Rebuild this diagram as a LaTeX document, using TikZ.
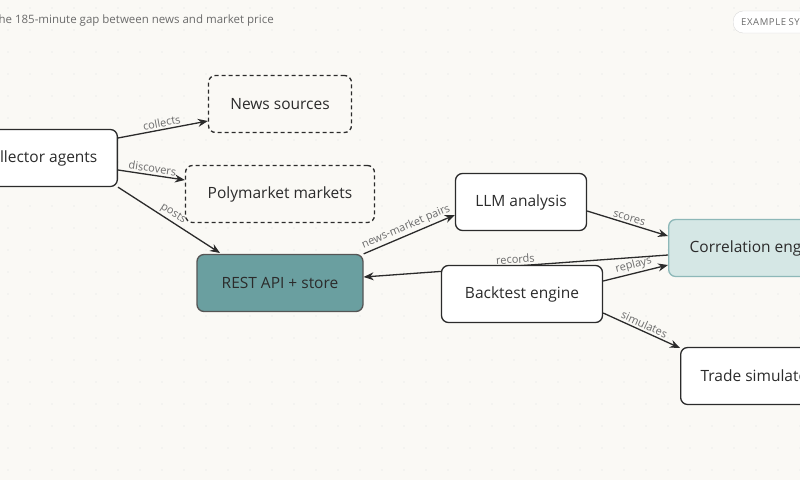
\documentclass[tikz,border=0pt]{standalone}
\usepackage{fontspec}
\setmainfont{Open Sans}
\usetikzlibrary{arrows.meta}
\definecolor{bg}{HTML}{FAF9F5}
\definecolor{ink}{HTML}{2B2B2B}
\definecolor{lab}{HTML}{6B6B6B}
\definecolor{teal}{HTML}{6A9FA0}
\definecolor{lteal}{HTML}{D5E7E5}
\definecolor{tealb}{HTML}{8DB8B8}
\begin{document}
\begin{tikzpicture}[x=1pt,y=-1pt,
  box/.style={draw=ink,line width=1.3pt,rounded corners=7pt,fill=white,minimum height=57pt,font=\fontsize{15.5}{18}\selectfont,text=ink},
  dbox/.style={box,dashed,dash pattern=on 4pt off 3pt,fill=bg},
  arr/.style={draw=ink,line width=1.3pt,-{Stealth[length=10pt,width=8pt]}},
  lbl/.style={font=\fontsize{11}{13}\selectfont,text=lab,sloped,above,inner sep=2pt}]
\useasboundingbox (0,0) rectangle (800,480);
\clip (0,0) rectangle (800,480);
\fill[bg] (0,0) rectangle (800,480);
\foreach \i in {0,...,36} \foreach \j in {0,...,22}
  \fill[black!12] (\i*22+8,\j*22+8) circle (0.6pt);
\node[anchor=west,font=\fontsize{11.5}{13}\selectfont,text=lab,inner sep=0] (title) at (-8,21) {The 185-minute gap between news and market price};
\node[draw=black!15,fill=white,rounded corners=10pt,anchor=west,minimum height=22pt,font=\fontsize{9.5}{12}\selectfont,text=lab,inner xsep=8pt] (badge) at (733,22) {E\kern.6pt X\kern.6pt A\kern.6pt M\kern.6pt P\kern.6pt L\kern.6pt E\ S\kern.6pt Y\kern.6pt S\kern.6pt T\kern.6pt E\kern.6pt M};
\node[box,anchor=east,inner xsep=20pt] (coll) at (118,158) {Collector agents};
\node[dbox,minimum width=143pt] (news) at (280,104) {News sources};
\node[dbox,minimum width=189pt] (poly) at (280,194) {Polymarket markets};
\node[box,minimum width=166pt,fill=teal,draw=ink!80] (rest) at (280,283) {REST API + store};
\node[box,minimum width=131pt] (llm) at (521,202) {LLM analysis};
\node[box,anchor=west,inner xsep=21pt,fill=lteal,draw=tealb] (corr) at (668,248) {Correlation engine};
\node[box,anchor=west,inner xsep=20pt] (trade) at (680,376) {Trade simulator};
\draw[arr] (coll.east|-0,138) -- node[lbl]{collects} (news.west|-0,121);
\draw[arr] (coll.east|-0,170) -- node[lbl]{discovers} (poly.west|-0,180);
\draw[arr] (coll.south east) -- node[lbl]{posts} (220,253);
\draw[arr] (rest.north east) -- node[lbl]{news-market pairs} (llm.west|-0,215);
\draw[arr] (llm.east|-0,211) -- node[lbl]{scores} (corr.west|-0,236);
\draw[arr] (corr.west|-0,255) -- node[lbl,pos=0.5]{records} (rest.east|-0,277);
\node[box,minimum width=161pt] (back) at (522,294) {Backtest engine};
\draw[arr] (back.east|-0,281) -- node[lbl]{replays} (corr.west|-0,265);
\draw[arr] (back.east|-0,313) -- node[lbl]{simulates} (trade.west|-0,348);
\end{tikzpicture}
\end{document}
